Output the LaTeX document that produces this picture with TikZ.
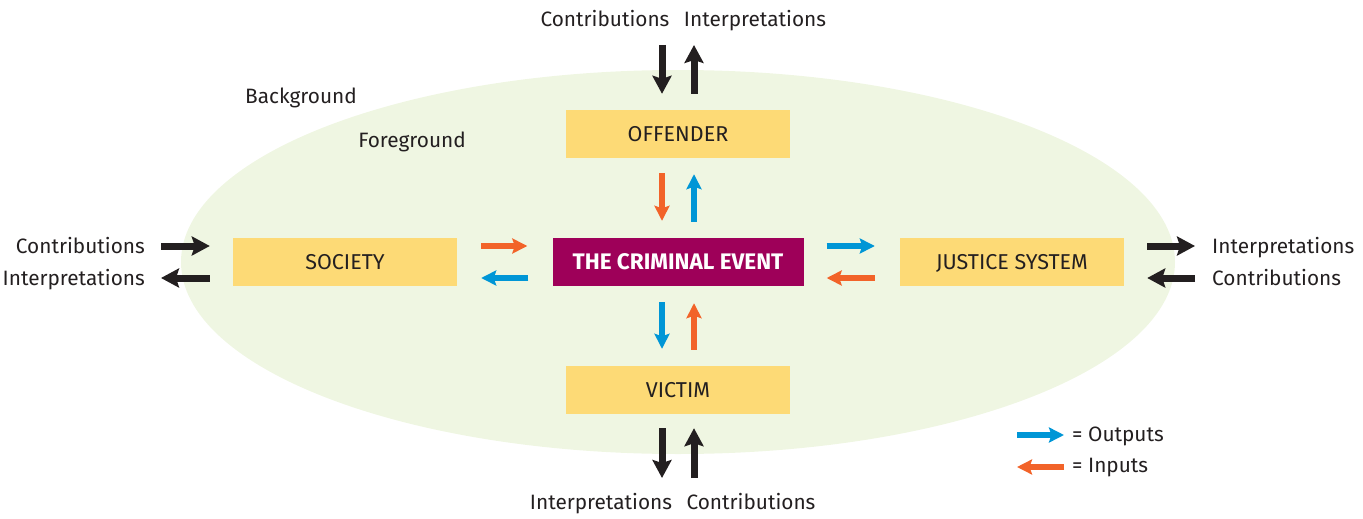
\documentclass[tikz,border=0pt]{standalone}
\usepackage{fontspec}
\setmainfont{Fira Sans}
\usetikzlibrary{arrows.meta,positioning}

\definecolor{fgGreen}{RGB}{239,246,226}
\definecolor{boxYellow}{RGB}{253,218,118}
\definecolor{eventPurple}{RGB}{158,0,89}
\definecolor{arrBlue}{RGB}{0,150,214}
\definecolor{arrOrange}{RGB}{242,99,41}
\definecolor{txtBlack}{RGB}{35,31,32}

\tikzset{
	box/.style={fill=boxYellow, text=txtBlack, inner sep=0pt, text depth=0pt,
		minimum width=224pt, minimum height=48pt, font=\fontsize{21.5}{24}\selectfont},
	eventbox/.style={box, fill=eventPurple, text=white, minimum width=251pt,
		font=\fontsize{22.5}{25}\selectfont\bfseries},
	lbl/.style={text=txtBlack, inner sep=0pt, font=\fontsize{20.8}{24}\selectfont},
	blackarr/.style={draw=txtBlack, line width=7pt,
		-{Stealth[length=18pt,width=19pt,inset=3pt]}},
	outarr/.style={draw=arrBlue, line width=5.5pt,
		-{Stealth[length=15pt,width=15pt,inset=2.5pt]}},
	inarr/.style={draw=arrOrange, line width=5.5pt,
		-{Stealth[length=15pt,width=15pt,inset=2.5pt]}}
}

\begin{document}
\begin{tikzpicture}[x=1pt,y=1pt,yscale=-1]
	\useasboundingbox (0,0) rectangle (1363,519);

	% foreground
	\fill[fgGreen] (678,262) ellipse [x radius=497, y radius=192];

	% boxes
	\node[box] (off) at (678,134) {OFFENDER};
	\node[box] (soc) at (345,262) {SOCIETY};
	\node[eventbox] (ev) at (678,262) {THE CRIMINAL EVENT};
	\node[box] (jus) at (1012,262) {JUSTICE SYSTEM};
	\node[box] (vic) at (678,390) {VICTIM};

	% labels
	\node[lbl, anchor=base] (topC) at (605,27) {Contributions};
	\node[lbl, anchor=base] (topI) at (755,27) {Interpretations};
	\node[lbl, anchor=base] (botI) at (601,509) {Interpretations};
	\node[lbl, anchor=base] (botC) at (751,509) {Contributions};
	\node[lbl, anchor=base east] (lftC) at (145,253) {Contributions};
	\node[lbl, anchor=base east] (lftI) at (145,285) {Interpretations};
	\node[lbl, anchor=base west] (rgtI) at (1212,253) {Interpretations};
	\node[lbl, anchor=base west] (rgtC) at (1212,285) {Contributions};
	\node[lbl, anchor=base] (bg) at (301,103) {Background};
	\node[lbl, anchor=base] (fg) at (412,147) {Foreground};

	% lanes of the arrow pairs
	\coordinate (cl) at (662,0);
	\coordinate (cr) at (694,0);
	\coordinate (rt) at (0,246);
	\coordinate (rb) at (0,278);

	% offender
	\draw[blackarr, shorten <=18pt, shorten >=16pt] (cl |- topC.base) -- (cl |- off.north);
	\draw[blackarr, shorten <=16pt, shorten >=18pt] (cr |- off.north) -- (cr |- topI.base);
	\draw[inarr, shorten <=15pt, shorten >=17pt] (cl |- off.south) -- (cl |- ev.north);
	\draw[outarr, shorten <=16pt, shorten >=16pt] (cr |- ev.north) -- (cr |- off.south);

	% victim
	\draw[outarr, shorten <=16pt, shorten >=17pt] (cl |- ev.south) -- (cl |- vic.north);
	\draw[inarr, shorten <=16pt, shorten >=17pt] (cr |- vic.north) -- (cr |- ev.south);
	\draw[blackarr, shorten <=14pt, shorten >=31pt] (cl |- vic.south) -- (cl |- botI.base);
	\draw[blackarr, shorten <=31pt, shorten >=14pt] (cr |- botC.base) -- (cr |- vic.south);

	% society
	\draw[blackarr, shorten <=16pt, shorten >=23pt] (lftC.east |- rt) -- (soc.west |- rt);
	\draw[blackarr, shorten <=23pt, shorten >=16pt] (soc.west |- rb) -- (lftI.east |- rb);
	\draw[inarr, shorten <=24pt, shorten >=25pt] (soc.east |- rt) -- (ev.west |- rt);
	\draw[outarr, shorten <=24pt, shorten >=24pt] (ev.west |- rb) -- (soc.east |- rb);

	% justice system
	\draw[outarr, shorten <=23pt, shorten >=25pt] (ev.east |- rt) -- (jus.west |- rt);
	\draw[inarr, shorten <=25pt, shorten >=23pt] (jus.west |- rb) -- (ev.east |- rb);
	\draw[blackarr, shorten <=23pt, shorten >=17pt] (jus.east |- rt) -- (rgtI.west |- rt);
	\draw[blackarr, shorten <=17pt, shorten >=23pt] (rgtC.west |- rb) -- (jus.east |- rb);

	% legend
	\node[lbl, anchor=base west] (legO) at (1072,441) {= Outputs};
	\node[lbl, anchor=base west] (legI) at (1072,472) {= Inputs};
	\coordinate (legOa) at (1017,435);
	\coordinate (legIa) at (1017,467);
	\draw[outarr, shorten >=8pt] (legOa) -- (legOa -| legO.west);
	\draw[inarr, shorten <=8pt] (legIa -| legI.west) -- (legIa);

\end{tikzpicture}
\end{document}
